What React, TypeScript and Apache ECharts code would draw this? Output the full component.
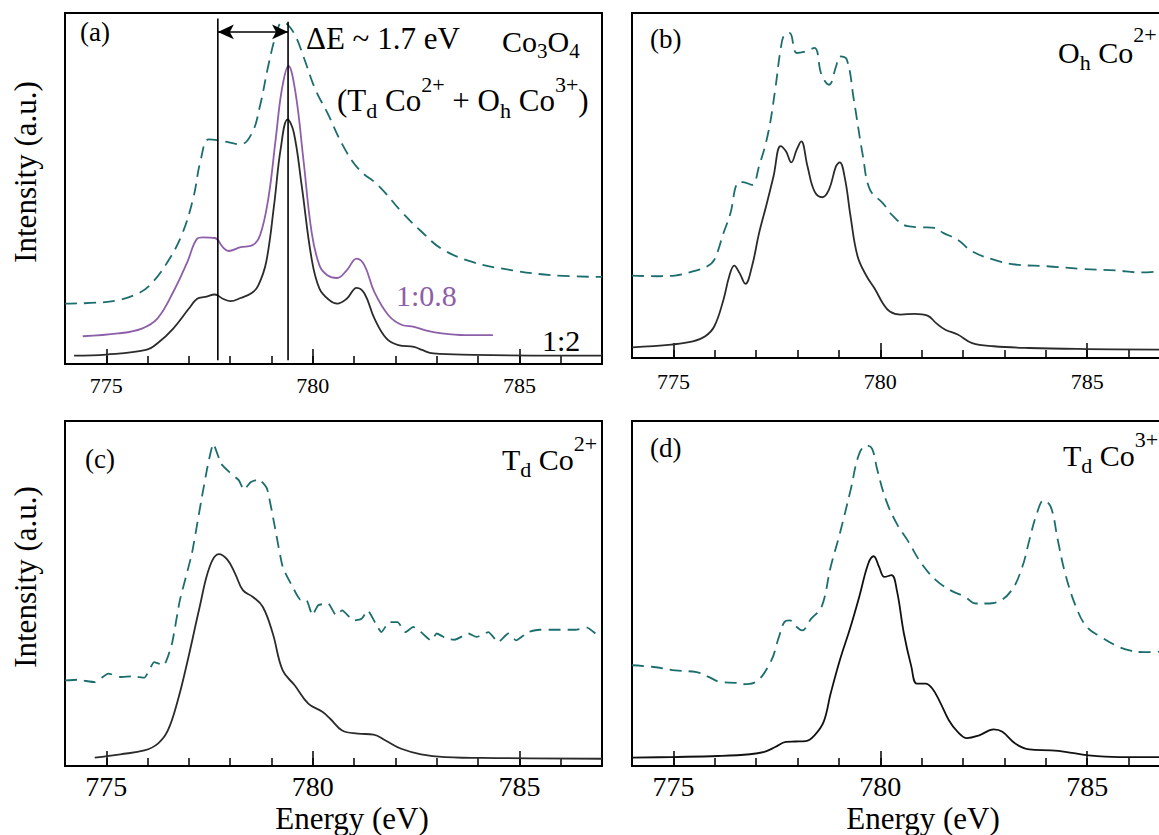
import React, { useEffect, useRef } from "react";
import * as echarts from "echarts";

const FONT = "Liberation Serif, Times New Roman, serif";
const BLACK = "#2b2b2b";
const TEAL = "#1c6e6e";
const PURPLE = "#8d5fa9";

const ENERGY_MIN = 774;
const ENERGY_MAX = 787;
const TICK_LABELS = [775, 780, 785];

// ---------- Panel (a): Co3O4 ----------
const aSolidX = [774.22, 775.0, 775.96, 776.24, 776.62, 777.0, 777.2, 777.39, 777.63, 777.82, 778.01, 778.25, 778.53, 778.68, 778.87, 779.06, 779.22, 779.39, 779.54, 779.73, 779.97, 780.16, 780.4, 780.59, 780.82, 781.06, 781.25, 781.49, 781.78, 782.07, 782.45, 782.64, 782.92, 783.88, 785.31, 787.0];
const aSolidY = [2.4, 2.7, 4.0, 5.9, 10.1, 15.8, 18.6, 19.1, 19.8, 18.6, 17.9, 18.8, 20.3, 22.4, 29.0, 45.1, 61.2, 69.7, 65.9, 50.8, 30.0, 21.5, 18.2, 17.2, 18.6, 21.7, 20.1, 13.0, 7.3, 5.4, 4.9, 4.0, 3.0, 2.6, 2.4, 2.4];
const aPurpleX = [774.43, 775.29, 775.86, 776.24, 776.62, 776.96, 777.2, 777.34, 777.63, 777.82, 777.96, 778.25, 778.53, 778.72, 778.92, 779.1, 779.25, 779.41, 779.58, 779.77, 779.97, 780.16, 780.35, 780.59, 780.82, 781.06, 781.25, 781.49, 781.83, 782.16, 782.45, 782.73, 783.12, 783.69, 784.36];
const aPurpleY = [7.9, 8.7, 10.1, 13.0, 20.5, 29.0, 35.7, 36.1, 35.9, 33.3, 32.2, 33.3, 33.8, 36.6, 47.0, 64.0, 78.2, 84.9, 77.3, 58.4, 37.6, 28.1, 25.3, 24.5, 26.7, 30.0, 28.1, 20.5, 13.9, 11.1, 10.6, 9.6, 8.7, 8.2, 8.2];
const aDashX = [774.0, 774.81, 775.29, 775.77, 776.05, 776.43, 776.82, 777.1, 777.29, 777.48, 777.77, 778.25, 778.53, 778.72, 778.92, 779.1, 779.25, 779.39, 779.58, 779.77, 780.06, 780.35, 780.73, 781.11, 781.59, 782.16, 782.64, 783.12, 783.88, 784.83, 785.79, 787.0];
const aDashY = [17.2, 17.5, 18.2, 20.1, 22.4, 28.1, 36.6, 47.0, 58.4, 64.0, 63.6, 62.6, 65.9, 73.5, 84.9, 93.4, 97.2, 96.7, 93.4, 87.7, 78.2, 71.6, 62.2, 55.5, 50.8, 43.2, 37.6, 32.8, 29.0, 26.7, 25.3, 24.8];
const aMarkerX = [777.7, 779.4];
const aMarkerYRange = [1.1, 98.4];
const aArrowY = 94.6;

// ---------- Panel (b): Oh Co2+ ----------
const bSolidX = [774.0, 774.95, 775.47, 775.77, 775.99, 776.21, 776.35, 776.47, 776.6, 776.74, 776.9, 777.07, 777.24, 777.42, 777.59, 777.72, 777.85, 777.98, 778.09, 778.24, 778.41, 778.6, 778.76, 778.93, 779.02, 779.15, 779.28, 779.45, 779.67, 779.88, 780.06, 780.23, 780.49, 780.83, 781.14, 781.35, 781.57, 781.87, 782.22, 782.74, 783.6, 784.99, 787.0];
const bSolidY = [3.1, 3.9, 4.8, 6.3, 9.2, 16.9, 23.7, 26.8, 24.6, 21.5, 26.6, 36.2, 44.0, 52.7, 61.4, 59.9, 56.7, 60.4, 62.8, 55.6, 48.3, 46.6, 48.8, 55.6, 56.7, 51.7, 41.1, 29.5, 23.7, 19.8, 15.9, 13.5, 12.6, 12.8, 12.3, 10.1, 8.2, 6.8, 4.3, 3.4, 2.9, 2.6, 2.4];
const bDashX = [774.0, 774.61, 775.04, 775.47, 775.82, 775.99, 776.21, 776.38, 776.55, 776.68, 776.9, 777.07, 777.29, 777.46, 777.59, 777.68, 777.81, 777.98, 778.2, 778.41, 778.58, 778.76, 778.93, 779.02, 779.19, 779.36, 779.58, 779.75, 780.06, 780.31, 780.66, 781.0, 781.31, 781.53, 781.87, 782.22, 782.74, 783.26, 784.03, 784.9, 785.68, 786.28, 787.0];
const bDashY = [23.9, 23.7, 23.9, 25.1, 26.6, 28.5, 36.2, 42.0, 50.7, 51.0, 50.2, 55.6, 65.2, 77.8, 89.4, 93.7, 94.2, 88.4, 88.9, 89.9, 82.1, 79.2, 84.5, 87.4, 86.5, 74.9, 58.5, 48.8, 44.9, 41.1, 38.2, 37.9, 37.7, 36.2, 34.3, 30.9, 28.5, 27.1, 26.6, 25.8, 25.4, 24.8, 25.4];

// ---------- Panel (c): Td Co2+ ----------
const cSolidX = [774.72, 775.34, 775.92, 776.25, 776.49, 776.73, 776.97, 777.26, 777.5, 777.72, 777.93, 778.12, 778.31, 778.55, 778.79, 779.03, 779.27, 779.56, 779.89, 780.23, 780.42, 780.71, 781.09, 781.47, 781.76, 782.14, 782.62, 783.2, 784.44, 787.0];
const cSolidY = [2.4, 3.4, 4.5, 6.5, 10.3, 19.0, 30.6, 46.1, 57.7, 61.4, 59.8, 55.7, 50.9, 49.0, 46.1, 38.4, 27.7, 23.4, 18.1, 15.7, 13.7, 10.3, 9.4, 9.1, 7.4, 5.0, 3.4, 2.6, 2.3, 2.1];
const cDashX = [774.0, 774.29, 774.72, 775.05, 775.34, 775.63, 775.92, 776.16, 776.39, 776.59, 776.78, 777.07, 777.3, 777.45, 777.59, 777.78, 777.98, 778.21, 778.33, 778.5, 778.69, 778.89, 779.08, 779.27, 779.51, 779.7, 779.84, 779.99, 780.13, 780.37, 780.56, 780.71, 780.99, 781.18, 781.33, 781.52, 781.66, 781.85, 782.05, 782.24, 782.43, 782.62, 782.86, 783.0, 783.24, 783.43, 783.77, 783.96, 784.25, 784.49, 784.73, 784.92, 785.21, 785.49, 785.88, 786.36, 786.64, 786.84];
const cDashY = [24.8, 25.0, 24.3, 26.8, 25.8, 26.0, 25.6, 30.1, 29.2, 35.5, 48.0, 61.5, 77.0, 86.7, 93.4, 87.6, 85.2, 82.8, 80.1, 82.3, 83.1, 80.4, 69.3, 57.7, 51.9, 48.2, 48.2, 43.7, 46.6, 47.1, 43.7, 45.1, 42.2, 42.7, 45.1, 41.3, 38.8, 41.7, 41.7, 38.8, 40.3, 38.8, 36.4, 38.4, 36.9, 36.6, 38.4, 37.4, 38.8, 35.9, 38.4, 36.4, 38.8, 39.5, 39.5, 39.5, 40.1, 38.4];

// ---------- Panel (d): Td Co3+ ----------
const dSolidX = [774.0, 774.95, 776.08, 776.85, 777.2, 777.46, 777.72, 777.94, 778.2, 778.41, 778.63, 778.8, 779.02, 779.28, 779.49, 779.71, 779.84, 779.97, 780.1, 780.27, 780.4, 780.57, 780.75, 780.88, 781.09, 781.26, 781.44, 781.66, 781.87, 782.09, 782.39, 782.74, 782.95, 783.26, 783.6, 784.12, 784.47, 785.03, 785.76, 787.0];
const dSolidY = [2.4, 2.6, 2.9, 3.4, 4.1, 5.5, 7.0, 7.1, 7.2, 8.9, 12.8, 21.0, 30.6, 40.3, 49.0, 58.7, 60.8, 57.7, 54.8, 55.3, 50.9, 38.4, 28.8, 23.9, 23.9, 22.4, 18.6, 13.2, 9.9, 8.1, 8.9, 10.6, 9.9, 6.5, 4.8, 4.5, 4.1, 3.1, 2.6, 2.6];
const dDashX = [774.0, 774.52, 775.04, 775.56, 775.82, 776.16, 776.51, 776.68, 776.94, 777.33, 777.55, 777.68, 777.81, 777.98, 778.11, 778.33, 778.58, 778.8, 779.02, 779.28, 779.49, 779.67, 779.8, 779.93, 780.14, 780.4, 780.66, 781.0, 781.35, 781.7, 782.05, 782.3, 782.56, 782.82, 783.17, 783.43, 783.6, 783.78, 783.95, 784.12, 784.29, 784.47, 784.73, 784.99, 785.33, 785.68, 786.02, 786.37, 787.0];
const dDashY = [29.2, 28.7, 27.7, 27.2, 26.0, 24.3, 24.1, 23.7, 24.1, 29.7, 37.4, 41.7, 42.2, 40.3, 39.3, 42.7, 46.1, 57.7, 67.3, 79.9, 90.5, 92.9, 92.0, 85.7, 77.0, 70.2, 65.4, 58.6, 53.8, 50.9, 49.0, 47.1, 47.1, 47.5, 50.9, 57.7, 65.4, 73.1, 77.0, 75.1, 65.4, 55.7, 46.1, 40.3, 37.4, 35.0, 33.5, 33.0, 33.3];

const pairs = (xs: number[], ys: number[]) => xs.map((x, i) => [x, ys[i]]);

let measureCtx: CanvasRenderingContext2D | null = null;
function textWidth(t: string, size: number): number {
  if (!measureCtx) measureCtx = document.createElement("canvas").getContext("2d");
  if (!measureCtx) return t.length * size * 0.5;
  measureCtx.font = `${size}px ${FONT}`;
  return measureCtx.measureText(t).width;
}

type Piece = [string, number, number];
function textRun(x0: number, baseline: number, pieces: Piece[], color = "#000") {
  const out: any[] = [];
  let x = x0;
  for (const [t, s, dy] of pieces) {
    out.push({
      type: "text",
      x,
      y: baseline + dy - s * 0.32,
      silent: true,
      style: {
        text: t,
        fontSize: s,
        fontFamily: FONT,
        fill: color,
        align: "left",
        verticalAlign: "middle",
        textAlign: "left",
        textVerticalAlign: "middle",
      },
    });
    x += textWidth(t, s);
  }
  return out;
}

function plainText(x: number, y: number, text: string, size: number, rotation = 0) {
  return {
    type: "text",
    x,
    y,
    rotation,
    silent: true,
    style: {
      text,
      fontSize: size,
      fontFamily: FONT,
      fill: "#000",
      align: "center",
      verticalAlign: "middle",
      textAlign: "center",
      textVerticalAlign: "middle",
    },
  };
}

const GRIDS = [
  { left: 65, top: 13, width: 537, height: 351, labelSize: 22, labelMargin: 21 },
  { left: 632, top: 13, width: 538, height: 345, labelSize: 22, labelMargin: 23 },
  { left: 65, top: 421, width: 537, height: 345, labelSize: 28, labelMargin: 20 },
  { left: 632, top: 421, width: 538, height: 345, labelSize: 28, labelMargin: 20 },
];

function curve(grid: number, xs: number[], ys: number[], color: string, dashed: boolean, smooth = 0.4) {
  return {
    type: "line",
    xAxisIndex: grid * 2,
    yAxisIndex: grid,
    data: pairs(xs, ys),
    showSymbol: false,
    smooth,
    silent: true,
    lineStyle: { color, width: 1.8, type: dashed ? [12, 7] : "solid" },
    z: dashed ? 2 : 3,
  };
}

export default function App() {
  const ref = useRef<HTMLDivElement>(null);
  useEffect(() => {
    if (!ref.current) return;
    const chart = echarts.init(ref.current, null, { renderer: "svg" });

    const grid = GRIDS.map((g) => ({
      left: g.left,
      top: g.top,
      width: g.width,
      height: g.height,
      show: true,
      borderColor: "#000",
      borderWidth: 2,
      backgroundColor: "transparent",
      containLabel: false,
      outerBoundsMode: "none",
    }));

    const xAxis: any[] = [];
    GRIDS.forEach((g, i) => {
      xAxis.push({
        type: "value",
        gridIndex: i,
        min: ENERGY_MIN,
        max: ENERGY_MAX,
        splitNumber: 3,
        position: "bottom",
        axisLine: { show: false, onZero: false },
        splitLine: { show: false },
        axisTick: { show: true, inside: true, length: 15, lineStyle: { color: "#000", width: 1.5 } },
        axisLabel: {
          show: true,
          fontFamily: FONT,
          fontSize: g.labelSize,
          color: "#000",
          margin: g.labelMargin,
          verticalAlign: "middle",
          formatter: (v: number) =>
            TICK_LABELS.includes(Math.round(v * 1000) / 1000) ? `{t|${v}}` : "",
          rich: {
            t: { fontFamily: FONT, fontSize: g.labelSize, color: "#000" },
          },
        },
      });
      xAxis.push({
        type: "value",
        gridIndex: i,
        min: ENERGY_MIN,
        max: ENERGY_MAX,
        interval: 1,
        position: "bottom",
        axisLine: { show: false, onZero: false },
        splitLine: { show: false },
        axisLabel: { show: false },
        axisTick: { show: true, inside: true, length: 8, lineStyle: { color: "#000", width: 1.5 } },
      });
    });
    const yAxis = GRIDS.map((_, i) => ({ type: "value", gridIndex: i, min: 0, max: 100, show: false }));

    const series: any[] = [
      curve(0, aDashX, aDashY, TEAL, true),
      curve(0, aPurpleX, aPurpleY, PURPLE, false),
      curve(0, aSolidX, aSolidY, BLACK, false),
      ...aMarkerX.map((x, k) => ({
        type: "line",
        xAxisIndex: 0,
        yAxisIndex: 0,
        data: [[x, aMarkerYRange[0]], [x, aMarkerYRange[1] - k * 0.9]],
        showSymbol: false,
        silent: true,
        lineStyle: { color: "#000", width: 1.6 },
        z: 4,
        markLine:
          k === 0
            ? {
                silent: true,
                symbol: ["arrow", "arrow"],
                symbolSize: [11, 16],
                label: { show: false },
                lineStyle: { color: "#000", width: 1.6, type: "solid" },
                data: [[{ coord: [aMarkerX[0], aArrowY] }, { coord: [aMarkerX[1], aArrowY] }]],
              }
            : undefined,
      })),
      curve(1, bDashX, bDashY, TEAL, true),
      curve(1, bSolidX, bSolidY, BLACK, false),
      curve(2, cDashX, cDashY, TEAL, true, 0.15),
      curve(2, cSolidX, cSolidY, BLACK, false),
      curve(3, dDashX, dDashY, TEAL, true),
      curve(3, dSolidX, dSolidY, "#111", false),
    ];

    const graphic: any[] = [
      ...textRun(80, 41, [["(a)", 27, 0]]),
      ...textRun(306, 48, [["ΔE ~ 1.7 eV", 31, 0]]),
      ...textRun(502, 51, [["Co", 30, 0], ["3", 21, 7], ["O", 30, 0], ["4", 21, 7]]),
      ...textRun(337, 110, [
        ["(", 31, 0], ["T", 31, 0], ["d", 22, 8], [" Co", 31, 0], ["2+", 22, -18],
        [" + O", 31, 0], ["h", 22, 8], [" Co", 31, 0], ["3+", 22, -18], [")", 31, 0],
      ]),
      ...textRun(396, 305, [["1:0.8", 30, 0]], PURPLE),
      ...textRun(542, 350, [["1:2", 30, 0]]),
      ...textRun(650, 48, [["(b)", 27, 0]]),
      ...textRun(1058, 62, [["O", 30, 0], ["h", 22, 8], [" Co", 30, 0], ["2+", 22, -20]]),
      ...textRun(85, 468, [["(c)", 27, 0]]),
      ...textRun(502, 469, [["T", 30, 0], ["d", 22, 8], [" Co", 30, 0], ["2+", 22, -18]]),
      ...textRun(650, 457, [["(d)", 27, 0]]),
      ...textRun(1063, 465, [["T", 30, 0], ["d", 22, 8], [" Co", 30, 0], ["3+", 22, -18]]),
      plainText(25, 172, "Intensity (a.u.)", 31, Math.PI / 2),
      plainText(25, 577, "Intensity (a.u.)", 31, Math.PI / 2),
      plainText(352, 818, "Energy (eV)", 31),
      plainText(923, 818, "Energy (eV)", 31),
    ];

    chart.setOption({
      animation: false,
      backgroundColor: "#fff",
      textStyle: { fontFamily: FONT },
      grid,
      xAxis,
      yAxis,
      series,
      graphic,
    });
    return () => chart.dispose();
  }, []);

  return (
    <div
      ref={ref}
      style={{ position: "fixed", left: 0, top: 0, width: 1159, height: 835, background: "#fff" }}
    />
  );
}
